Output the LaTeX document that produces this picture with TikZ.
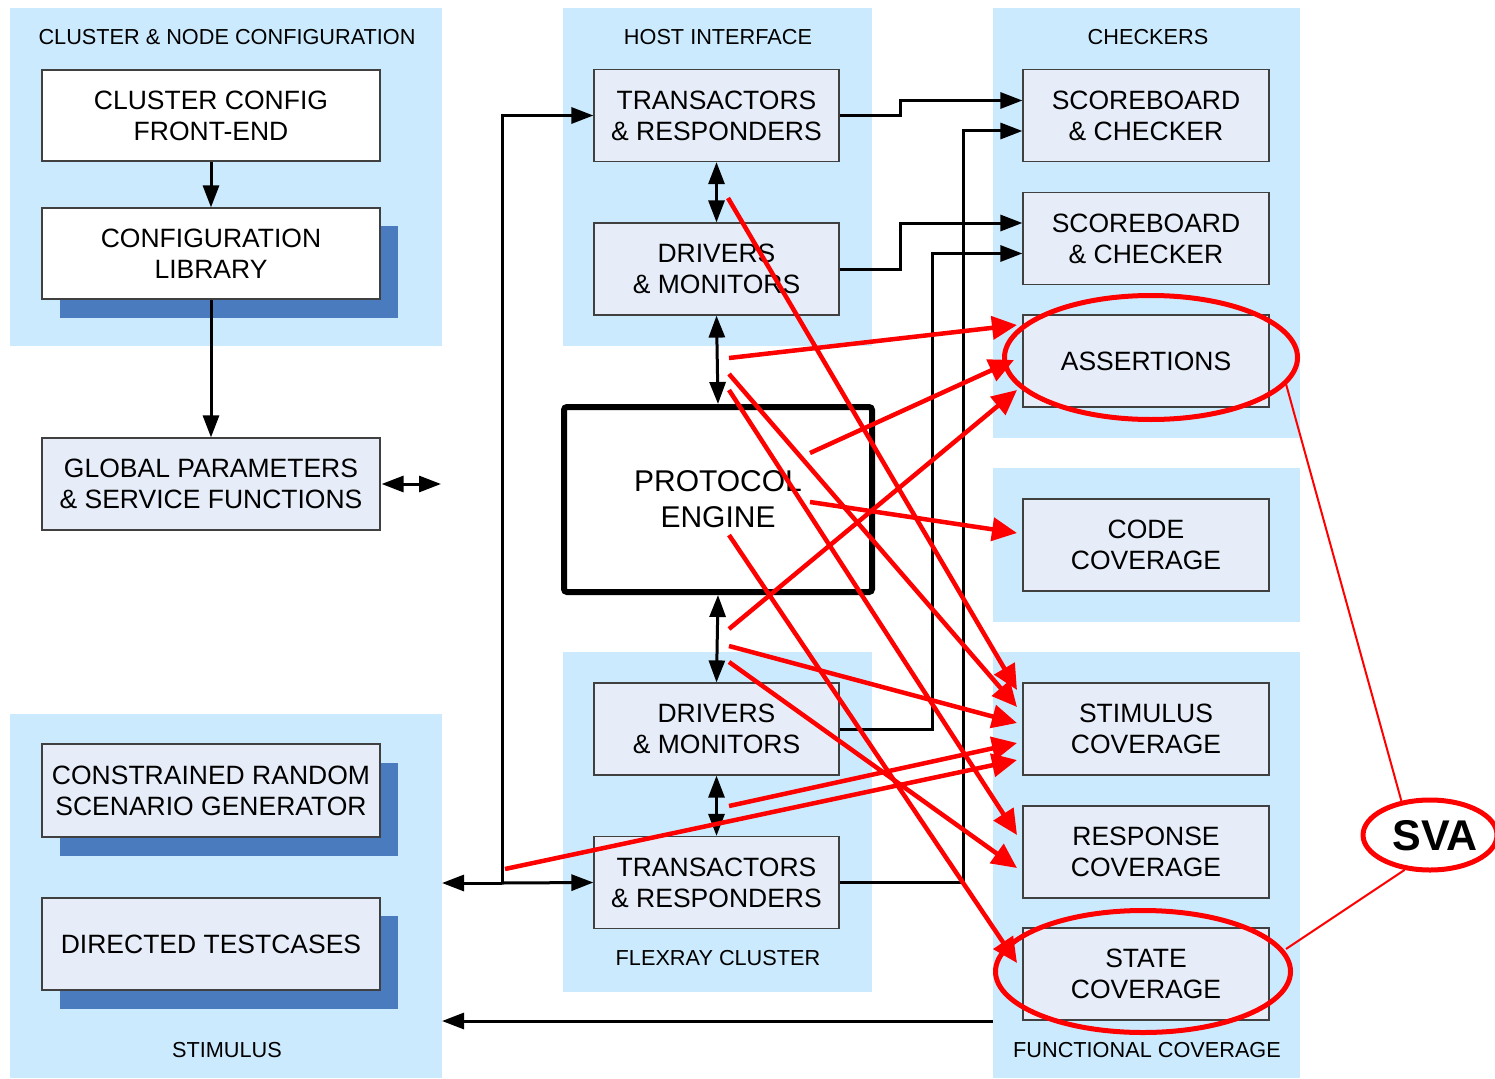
\documentclass[tikz,border=0pt]{standalone}
\usepackage{fontspec}
\setmainfont{Liberation Sans}
\usetikzlibrary{arrows.meta,shapes.geometric}
\definecolor{panelblue}{RGB}{204,234,253}
\definecolor{boxfill}{RGB}{230,237,248}
\definecolor{shadowblue}{RGB}{74,123,190}
\definecolor{boxline}{RGB}{64,64,64}
\definecolor{redline}{RGB}{255,0,0}
\tikzset{
  panel/.style={fill=panelblue, draw=none},
  shadowrect/.style={fill=shadowblue, draw=none},
  box/.style={draw=boxline, fill=boxfill, line width=1.2pt, minimum width=245pt, minimum height=92pt,
    inner sep=0pt, align=center, font=\fontsize{26.5}{31}\selectfont},
  lbl/.style={inner sep=0pt, font=\fontsize{21.7}{26}\selectfont},
  blk/.style={line width=3pt, -{Triangle[length=22pt,width=16pt]}},
  dbl/.style={line width=3pt, {Triangle[length=22pt,width=16pt]}-{Triangle[length=22pt,width=16pt]}},
  redarr/.style={draw=redline, line width=4.5pt, -{Triangle[length=25pt,width=23pt]}},
  redring/.style={draw=redline, line width=5pt},
  thinred/.style={draw=redline, line width=2pt},
}
\begin{document}
\begin{tikzpicture}[x=1pt,y=-1pt]
\useasboundingbox (0,0) rectangle (1495,1078);
% panels
\fill[panel] (10,8) rectangle (442,346);
\fill[panel] (563,8) rectangle (872,346);
\fill[panel] (993,8) rectangle (1300,438);
\fill[panel] (993,468) rectangle (1300,622);
\fill[panel] (993,652) rectangle (1300,1078);
\fill[panel] (563,652) rectangle (872,992);
\fill[panel] (10,714) rectangle (442,1078);
% panel labels
\node[lbl] (l1) at (227,37) {CLUSTER \& NODE CONFIGURATION};
\node[lbl] (l2) at (718,37) {HOST INTERFACE};
\node[lbl] (l3) at (1148,37) {CHECKERS};
\node[lbl] (l4) at (718,958) {FLEXRAY CLUSTER};
\node[lbl] (l5) at (227,1050) {STIMULUS};
\node[lbl] (l6) at (1147,1050) {FUNCTIONAL COVERAGE};
% shadows
\fill[shadowrect] (60,226) rectangle (398,318);
\fill[shadowrect] (60,763) rectangle (398,856);
\fill[shadowrect] (60,916) rectangle (398,1009);
% left column boxes
\node[box, fill=white, minimum width=338pt, minimum height=91pt] (cfe) at (211,115.5) {CLUSTER CONFIG\\FRONT-END};
\node[box, fill=white, minimum width=338pt, minimum height=91pt] (clib) at (211,253.5) {CONFIGURATION\\LIBRARY};
\node[box, minimum width=338pt, minimum height=92pt] (gp) at (211,484) {GLOBAL PARAMETERS\\\& SERVICE FUNCTIONS};
\node[box, minimum width=338pt, minimum height=93pt] (crs) at (211,790.5) {CONSTRAINED RANDOM\\SCENARIO GENERATOR};
\node[box, minimum width=338pt, minimum height=92pt] (dt) at (211,944) {DIRECTED TESTCASES};
% middle column
\node[box] (trt) at (716.5,115.5) {TRANSACTORS\\\& RESPONDERS};
\node[box] (dmt) at (716.5,269) {DRIVERS\\\& MONITORS};
\node[draw=black, fill=white, line width=6pt, rounded corners=3pt, minimum width=308pt, minimum height=185pt,
  inner sep=0pt, align=center, font=\fontsize{30}{36}\selectfont] (pe) at (718,499.5) {PROTOCOL\\ENGINE};
\node[box] (dmb) at (716.5,729) {DRIVERS\\\& MONITORS};
\node[box] (trb) at (716.5,882.5) {TRANSACTORS\\\& RESPONDERS};
% right column
\node[box, minimum width=246pt] (sb1) at (1146,115.5) {SCOREBOARD\\\& CHECKER};
\node[box, minimum width=246pt] (sb2) at (1146,238.5) {SCOREBOARD\\\& CHECKER};
\node[box, minimum width=246pt] (as) at (1146,361) {ASSERTIONS};
\node[box, minimum width=246pt] (cc) at (1146,545) {CODE\\COVERAGE};
\node[box, minimum width=246pt] (stc) at (1146,729) {STIMULUS\\COVERAGE};
\node[box, minimum width=246pt] (rc) at (1146,852) {RESPONSE\\COVERAGE};
\node[box, minimum width=246pt] (sc) at (1146,974) {STATE\\COVERAGE};
% black connectors
\draw[blk] (cfe.south) -- (clib.north);
\draw[blk] (clib.south) -- (gp.north);
\coordinate (gpR) at (441,484);
\draw[dbl] ([xshift=1pt]gp.east) -- (gpR);
\draw[dbl] (trt.south) -- (dmt.north);
\draw[dbl] (dmt.south) -- (pe.north);
\draw[dbl] (pe.south) -- (dmb.north);
\draw[dbl] (dmb.south) -- (trb.north);
\coordinate (busJ) at (502,883);
\coordinate (stimR) at (442,883);
\draw[blk] (busJ) -- (stimR);
\draw[blk] (busJ) -- (trb.west);
\draw[blk] (busJ) |- (trt.west);
\draw[blk] (trt.east) -- (900,115.5) |- ([yshift=15pt]sb1.west);
\draw[blk] (trb.east) -- (963,882.5) |- ([yshift=-15.5pt]sb1.west);
\draw[blk] (dmt.east) -- (900,269) |- ([yshift=15.5pt]sb2.west);
\draw[blk] (dmb.east) -- (932,729) |- ([yshift=-15pt]sb2.west);
\coordinate (fcL) at (993,1021);
\coordinate (stR) at (442,1021);
\draw[blk] (fcL) -- (stR);
% red arrows
\coordinate (ra0) at (729,358);  \coordinate (ra1) at (1017,325);
\coordinate (rb0) at (729,374);  \coordinate (rb1) at (1017,707);
\coordinate (rc0) at (729,390);  \coordinate (rc1) at (1017,835);
\coordinate (rd0) at (728,198);  \coordinate (rd1) at (1017,690);
\coordinate (re0) at (810,453);  \coordinate (re1) at (1014,360);
\coordinate (rf0) at (810,502);  \coordinate (rf1) at (1017,533);
\coordinate (rg0) at (729,629);  \coordinate (rg1) at (1017,390);
\coordinate (rh0) at (729,535);  \coordinate (rh1) at (1017,963);
\coordinate (ri0) at (729,646);  \coordinate (ri1) at (1017,723);
\coordinate (rj0) at (729,662);  \coordinate (rj1) at (1017,868);
\coordinate (rk0) at (729,806);  \coordinate (rk1) at (1017,743);
\coordinate (rl0) at (505,869);  \coordinate (rl1) at (1017,760);
\foreach \n in {a,b,c,d,e,f,g,h,i,j,k,l}{
  \draw[redarr] (r\n0) -- (r\n1);
}
% ellipses
\draw[redring] (1151,357.5) ellipse [x radius=146.5pt, y radius=62pt];
\draw[redring] (1143,971.5) ellipse [x radius=147.5pt, y radius=61pt];
\node[draw=redline, line width=5pt, ellipse, minimum width=134pt, minimum height=70pt, inner sep=0pt] (svaring) at (1430,835) {};
\node[inner sep=0pt, font=\fontsize{43}{50}\selectfont\bfseries] (sva) at (1435,836) {SVA};
\coordinate (asR) at (1286,384);
\coordinate (scR) at (1286,949);
\draw[thinred] (asR) -- (svaring.130);
\draw[thinred] (svaring.234) -- (scR);
\end{tikzpicture}
\end{document}
